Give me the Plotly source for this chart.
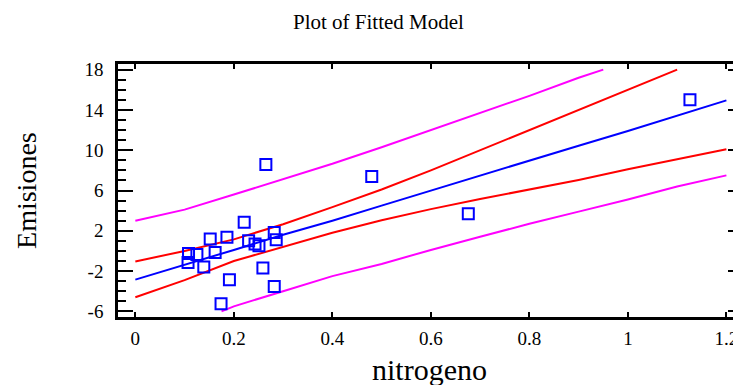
import plotly.graph_objects as go

# ---- data ----
obs_x = [0.265, 0.221, 0.282, 0.286, 0.230, 0.243, 0.251, 0.186, 0.152, 0.162,
         0.108, 0.125, 0.107, 0.139, 0.259, 0.191, 0.282, 0.174, 0.480, 0.676, 1.126]
obs_y = [8.57, 2.84, 1.84, 1.12, 1.02, 0.69, 0.52, 1.35, 1.19, -0.15,
         -0.25, -0.35, -1.15, -1.60, -1.69, -2.85, -3.52, -5.24, 7.40, 3.70, 15.02]

grid_x = [0.0, 0.1, 0.2, 0.3, 0.4, 0.5, 0.6, 0.7, 0.8, 0.9, 1.0, 1.1, 1.2]
fit_y = [-2.85, -1.40, 0.10, 1.60, 3.00, 4.50, 6.00, 7.50, 9.00, 10.45, 11.90, 13.45, 14.95]

conf_up_x = [0.0, 0.1, 0.2, 0.3, 0.4, 0.5, 0.6, 0.7, 0.8, 0.9, 1.0, 1.1]
conf_up_y = [-1.05, 0.00, 1.15, 2.65, 4.35, 6.10, 8.00, 10.00, 12.00, 14.05, 16.05, 18.00]
conf_lo_y = [-4.60, -2.90, -1.00, 0.40, 1.80, 3.05, 4.15, 5.15, 6.10, 7.05, 8.10, 9.10, 10.10]

pred_up_x = [0.0, 0.1, 0.2, 0.3, 0.4, 0.5, 0.6, 0.7, 0.8, 0.9, 0.95]
pred_up_y = [3.00, 4.10, 5.60, 7.10, 8.65, 10.30, 12.00, 13.70, 15.40, 17.20, 18.00]
pred_lo_x = [0.175, 0.2, 0.3, 0.4, 0.5, 0.6, 0.7, 0.8, 0.9, 1.0, 1.1, 1.2]
pred_lo_y = [-6.00, -5.50, -4.00, -2.50, -1.30, 0.10, 1.40, 2.70, 3.90, 5.10, 6.40, 7.50]

x_ticks = [0, 0.2, 0.4, 0.6, 0.8, 1.0, 1.2]
x_tick_text = ["0", "0.2", "0.4", "0.6", "0.8", "1", "1.2"]
y_ticks = [-6, -2, 2, 6, 10, 14, 18]
y_tick_text = ["-6", "-2", "2", "6", "10", "14", "18"]

BLUE = "#0000ff"
RED = "#ff0000"
MAG = "#ff00ff"
FONT = "Liberation Serif"

fig = go.Figure()
line_w = 2
fig.add_trace(go.Scatter(x=pred_up_x, y=pred_up_y, mode="lines", line=dict(color=MAG, width=line_w)))
fig.add_trace(go.Scatter(x=pred_lo_x, y=pred_lo_y, mode="lines", line=dict(color=MAG, width=line_w)))
fig.add_trace(go.Scatter(x=conf_up_x, y=conf_up_y, mode="lines", line=dict(color=RED, width=line_w)))
fig.add_trace(go.Scatter(x=grid_x, y=conf_lo_y, mode="lines", line=dict(color=RED, width=line_w)))
fig.add_trace(go.Scatter(x=grid_x, y=fit_y, mode="lines", line=dict(color=BLUE, width=line_w)))
fig.add_trace(go.Scatter(x=obs_x, y=obs_y, mode="markers",
                         marker=dict(symbol="square-open", size=11, color=BLUE,
                                     line=dict(color=BLUE, width=2))))

y_range = [-6.56, 18.56]
x_range = [-0.0352, 1.2337]

# page is offset by the 8px body margin; plot area spans page x 118..746, y 64..317
PL, PR, PT, PB = 118, 746, 64, 317
def px(xp):
    return (xp - PL) / (PR - PL)
def py(yp):
    return (PB - yp) / (PB - PT)

fig.update_layout(
    width=741, height=385,
    margin=dict(l=PL - 8, r=741 + 8 - PR, t=PT - 8, b=385 + 8 - PB),
    paper_bgcolor="white", plot_bgcolor="white",
    showlegend=False,
    font=dict(family=FONT, color="black", size=19),
    xaxis=dict(range=x_range, tickvals=x_ticks, ticktext=x_tick_text,
               showgrid=False, zeroline=False, showline=True, linecolor="black",
               linewidth=2.5, mirror="ticks", ticks="inside", ticklen=5,
               tickwidth=2, tickcolor="black",
               tickfont=dict(family=FONT, size=19), ticklabelstandoff=2),
    yaxis=dict(range=y_range, tickvals=y_ticks, ticktext=y_tick_text,
               showgrid=False, zeroline=False, showline=True, linecolor="black",
               linewidth=2.5, mirror="ticks", ticks="inside", ticklen=15,
               tickwidth=2, tickcolor="black",
               minor=dict(dtick=1, tick0=-6, ticks="inside", ticklen=8,
                          tickwidth=2, tickcolor="black", showgrid=False),
               tickfont=dict(family=FONT, size=19), ticklabelstandoff=8),
    annotations=[
        dict(text="Plot of Fitted Model", xref="paper", yref="paper",
             x=px(380), y=py(22), xanchor="center",
             yanchor="middle", showarrow=False, font=dict(family=FONT, size=21)),
        dict(text="nitrogeno", xref="paper", yref="paper",
             x=px(431), y=py(369), xanchor="center",
             yanchor="middle", showarrow=False, font=dict(family=FONT, size=30)),
        dict(text="Emisiones", xref="paper", yref="paper",
             x=px(26), y=py(190.5), xanchor="center", yanchor="middle",
             textangle=-90, showarrow=False, font=dict(family=FONT, size=28)),
    ],
)

fig.write_html("out.html", config={"displayModeBar": False})
